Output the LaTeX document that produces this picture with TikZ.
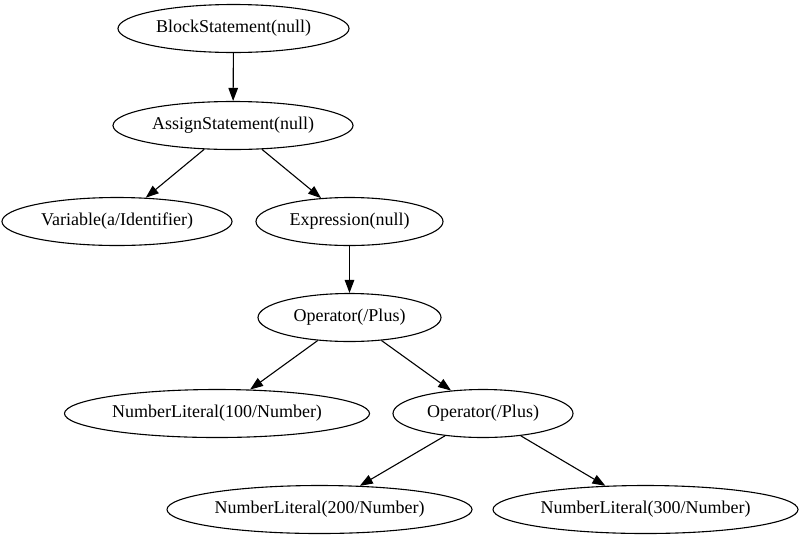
\documentclass[tikz,border=0pt]{standalone}
\usepackage{fontspec}
\setmainfont{Liberation Serif}
\usetikzlibrary{shapes.geometric,arrows.meta}
\begin{document}
\begin{tikzpicture}[x=1pt,y=-1pt,
  tn/.style={ellipse,draw,line width=1.1pt,inner sep=0pt,minimum height=48pt,font=\fontsize{18}{20}\selectfont},
  edge/.style={line width=1.1pt,-{Triangle[length=13pt,width=9.5pt]}}]
\useasboundingbox (0,0) rectangle (802,539);
\node[tn,minimum width=231pt] (bs) at (233.5,28.5) {BlockStatement(null)};
\node[tn,minimum width=240pt] (as) at (233,125.5) {AssignStatement(null)};
\node[tn,minimum width=230pt] (var) at (117,221.5) {Variable(a/Identifier)};
\node[tn,minimum width=187pt] (ex) at (349.5,221.5) {Expression(null)};
\node[tn,minimum width=183pt] (op1) at (349.5,317.5) {Operator(/Plus)};
\node[tn,minimum width=305pt] (n100) at (217,413.5) {NumberLiteral(100/Number)};
\node[tn,minimum width=180pt] (op2) at (483,413.5) {Operator(/Plus)};
\node[tn,minimum width=305pt] (n200) at (319.5,509.5) {NumberLiteral(200/Number)};
\node[tn,minimum width=305pt] (n300) at (645.5,509.5) {NumberLiteral(300/Number)};
\draw[edge] (bs) -- (as);
\draw[edge] (as) -- (var);
\draw[edge] (as) -- (ex);
\draw[edge] (ex) -- (op1);
\draw[edge] (op1) -- (n100);
\draw[edge] (op1) -- (op2);
\draw[edge] (op2) -- (n200);
\draw[edge] (op2) -- (n300);
\end{tikzpicture}
\end{document}
